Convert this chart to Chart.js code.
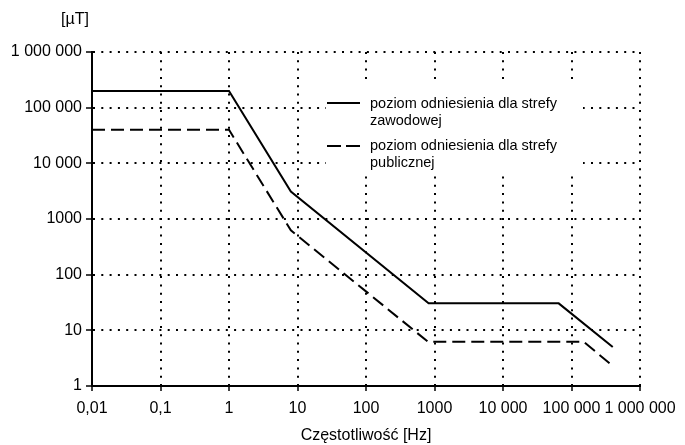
<!DOCTYPE html>
<html lang="pl">
<head>
    <meta charset="UTF-8">
    <title>Poziomy odniesienia</title>
    <script src="https://cdn.jsdelivr.net/npm/chart.js"></script>
    <style>
        body {
            margin: 0;
            background-color: #ffffff;
        }
        .chart-container {
            position: relative;
            width: 685px;
            height: 445px;
        }
    </style>
</head>
<body>
    <div class="chart-container">
        <canvas id="refChart"></canvas>
    </div>
    <script>
        // data (frequency in Hz, induction in uT)
        const freqZawodowa = [0.01, 1, 8, 820, 65000, 400000];
        const valZawodowa = [200000, 200000, 3100, 30.5, 30.5, 5];
        const freqPubliczna = [0.01, 1, 8, 800, 150000, 400000];
        const valPubliczna = [40000, 40000, 625, 6.25, 6.25, 2.3];

        const seriesLabels = ['poziom odniesienia dla strefy zawodowej', 'poziom odniesienia dla strefy publicznej'];
        const legendLines = [['poziom odniesienia dla strefy', 'zawodowej'], ['poziom odniesienia dla strefy', 'publicznej']];

        const xTickValues = [0.01, 0.1, 1, 10, 100, 1000, 10000, 100000, 1000000];
        const xTickLabels = ['0,01', '0,1', '1', '10', '100', '1000', '10 000', '100 000', '1 000 000'];
        const yTickValues = [1, 10, 100, 1000, 10000, 100000, 1000000];
        const yTickLabels = ['1', '10', '100', '1000', '10 000', '100 000', '1 000 000'];

        const FONT = '"Liberation Sans", Arial, sans-serif';
        const DASH = [13, 6];

        function toPoints(xs, ys) {
            return xs.map((x, i) => ({ x: x, y: ys[i] }));
        }

        // legend box inside the plot + the unit label above the y axis
        const extras = {
            id: 'extras',
            afterDatasetsDraw(chart) {
                const ctx = chart.ctx;
                ctx.save();
                ctx.fillStyle = '#ffffff';
                ctx.fillRect(326, 85, 257, 90);

                ctx.strokeStyle = '#000';
                ctx.lineWidth = 2;
                ctx.beginPath();
                ctx.moveTo(327, 103);
                ctx.lineTo(360, 103);
                ctx.stroke();
                ctx.setLineDash([14, 5]);
                ctx.beginPath();
                ctx.moveTo(327, 146);
                ctx.lineTo(360, 146);
                ctx.stroke();
                ctx.setLineDash([]);

                ctx.fillStyle = '#000';
                ctx.font = '14.5px ' + FONT;
                ctx.textBaseline = 'middle';
                ctx.textAlign = 'left';
                const tops = [104, 146];
                legendLines.forEach((lines, i) => {
                    lines.forEach((t, j) => ctx.fillText(t, 370, tops[i] + j * 16.5));
                });

                ctx.font = '16px ' + FONT;
                ctx.textAlign = 'center';
                ctx.fillText('[µT]', 75, 20);
                ctx.restore();
            }
        };

        new Chart(document.getElementById('refChart'), {
            type: 'line',
            data: {
                datasets: [{
                    label: seriesLabels[0],
                    data: toPoints(freqZawodowa, valZawodowa),
                    borderColor: '#000',
                    borderWidth: 2,
                    pointRadius: 0,
                    tension: 0
                }, {
                    label: seriesLabels[1],
                    data: toPoints(freqPubliczna, valPubliczna),
                    borderColor: '#000',
                    borderWidth: 2,
                    borderDash: DASH,
                    pointRadius: 0,
                    tension: 0
                }]
            },
            options: {
                responsive: true,
                maintainAspectRatio: false,
                animation: false,
                layout: {
                    padding: { top: 52, right: 45, left: 0, bottom: 0 }
                },
                scales: {
                    x: {
                        type: 'logarithmic',
                        min: 0.01,
                        max: 1000000,
                        afterBuildTicks: s => { s.ticks = xTickValues.map(v => ({ value: v })); },
                        afterFit: s => { s.height = 59; },
                        ticks: {
                            color: '#000',
                            font: { family: FONT, size: 16 },
                            padding: 8,
                            maxRotation: 0,
                            autoSkip: false,
                            callback: v => xTickLabels[xTickValues.indexOf(v)]
                        },
                        grid: {
                            color: '#000',
                            lineWidth: 2,
                            tickLength: 5,
                            tickWidth: 1.5
                        },
                        border: { display: true, color: '#000', width: 2, dash: [2, 6.3] },
                        title: {
                            display: true,
                            text: 'Częstotliwość [Hz]',
                            color: '#000',
                            font: { family: FONT, size: 16 },
                            padding: { top: 0, bottom: 0 }
                        }
                    },
                    y: {
                        type: 'logarithmic',
                        min: 1,
                        max: 1000000,
                        afterBuildTicks: s => { s.ticks = yTickValues.map(v => ({ value: v })); },
                        afterFit: s => { s.width = 92; },
                        ticks: {
                            color: '#000',
                            font: { family: FONT, size: 16 },
                            padding: 4,
                            autoSkip: false,
                            callback: v => yTickLabels[yTickValues.indexOf(v)]
                        },
                        grid: {
                            color: '#000',
                            lineWidth: 2,
                            tickLength: 6,
                            tickWidth: 1.5
                        },
                        border: { display: true, color: '#000', width: 2, dash: [2, 6.3] }
                    }
                },
                plugins: {
                    legend: { display: false },
                    tooltip: { enabled: false }
                }
            },
            plugins: [extras]
        });
    </script>
</body>
</html>
